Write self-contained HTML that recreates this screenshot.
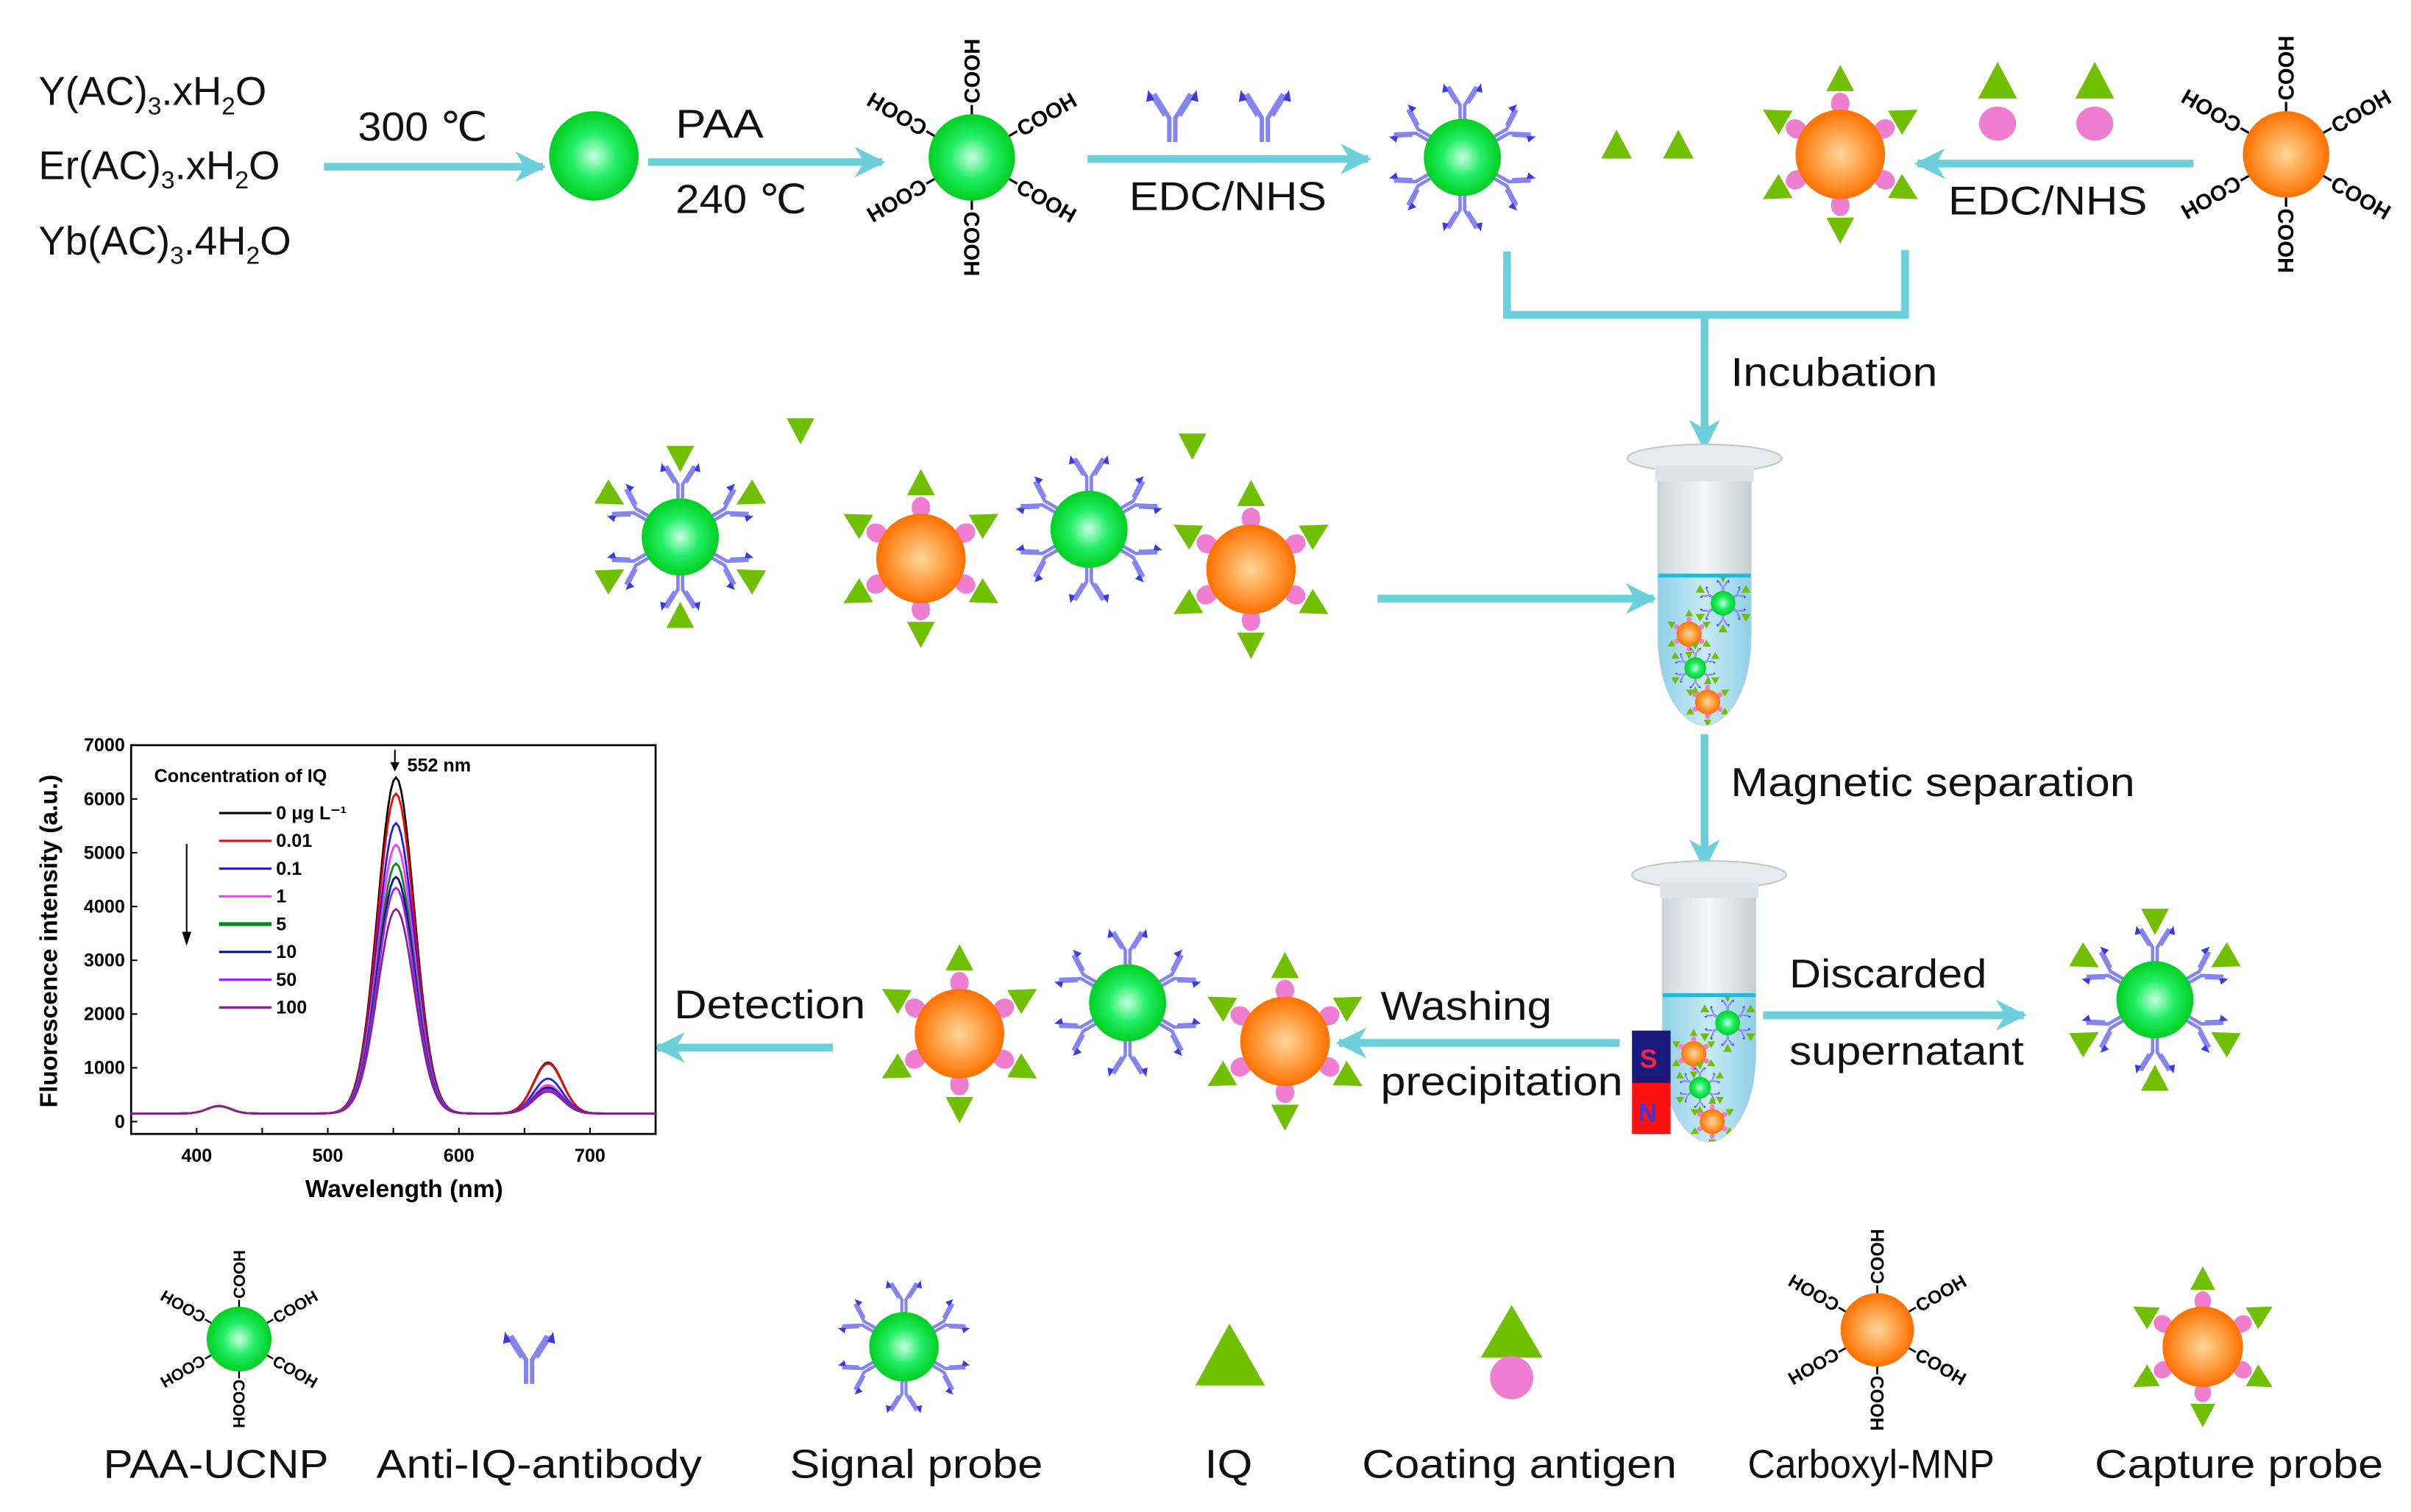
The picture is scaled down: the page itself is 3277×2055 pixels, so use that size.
<!DOCTYPE html>
<html><head><meta charset="utf-8"><style>
html,body{margin:0;padding:0;background:#fff}
svg{display:block}
text{font-family:"Liberation Sans",Arial,sans-serif}
</style></head><body>
<svg id="s" width="3277" height="2055" viewBox="0 0 1563 980" xmlns="http://www.w3.org/2000/svg">
<defs>
<radialGradient id="gG" cx="50%" cy="50%" r="50%"><stop offset="0" stop-color="#c8ffe0"/><stop offset="0.5" stop-color="#22ee66"/><stop offset="1" stop-color="#00d020"/></radialGradient>
<radialGradient id="gO" cx="50%" cy="50%" r="50%"><stop offset="0" stop-color="#ffd79a"/><stop offset="0.6" stop-color="#ff9a3a"/><stop offset="1" stop-color="#ff7000"/></radialGradient>
<linearGradient id="liq" x1="0" x2="1"><stop offset="0" stop-color="#8fcfe6"/><stop offset="0.5" stop-color="#c7eaf6"/><stop offset="1" stop-color="#8fcfe6"/></linearGradient>
<linearGradient id="glass" x1="0" x2="1"><stop offset="0" stop-color="#cfd6da"/><stop offset="0.5" stop-color="#f4f7f8"/><stop offset="1" stop-color="#c7cfd3"/></linearGradient>
<g id="ab">
 <path d="M-1.5 0V-12L-9-24M1.5 0V-12L9-24" fill="none" stroke="#8585f2" stroke-width="2.2"/>
 <path d="M-4-13L-11-24M4-13L11-24" fill="none" stroke="#8585f2" stroke-width="1.5"/>
 <path d="M-12-26l3 5-4 1zM12-26l-3 5 4 1z" fill="#3a3ae0"/>
</g>
<g id="tri"><polygon points="0,-10 9,7 -9,7" fill="#70c000"/></g>
<g id="sp">
 <g transform="rotate(0)"><use href="#ab" transform="translate(0,-22)"/></g>
 <g transform="rotate(60)"><use href="#ab" transform="translate(0,-22)"/></g>
 <g transform="rotate(120)"><use href="#ab" transform="translate(0,-22)"/></g>
 <g transform="rotate(180)"><use href="#ab" transform="translate(0,-22)"/></g>
 <g transform="rotate(240)"><use href="#ab" transform="translate(0,-22)"/></g>
 <g transform="rotate(300)"><use href="#ab" transform="translate(0,-22)"/></g>
 <circle r="25" fill="url(#gG)"/>
</g>
<g id="spT">
 <use href="#sp"/>
 <g transform="rotate(0)"><use href="#tri" transform="translate(0,-52) rotate(180)"/></g>
 <g transform="rotate(60)"><use href="#tri" transform="translate(0,-52) rotate(180)"/></g>
 <g transform="rotate(120)"><use href="#tri" transform="translate(0,-52) rotate(180)"/></g>
 <g transform="rotate(180)"><use href="#tri" transform="translate(0,-52) rotate(180)"/></g>
 <g transform="rotate(240)"><use href="#tri" transform="translate(0,-52) rotate(180)"/></g>
 <g transform="rotate(300)"><use href="#tri" transform="translate(0,-52) rotate(180)"/></g>
</g>
<g id="cp">
 <g transform="rotate(0)"><ellipse cx="0" cy="-33" rx="6" ry="7" fill="#f07ed0"/><use href="#tri" transform="translate(0,-48)"/></g>
 <g transform="rotate(60)"><ellipse cx="0" cy="-33" rx="6" ry="7" fill="#f07ed0"/><use href="#tri" transform="translate(0,-48)"/></g>
 <g transform="rotate(120)"><ellipse cx="0" cy="-33" rx="6" ry="7" fill="#f07ed0"/><use href="#tri" transform="translate(0,-48)"/></g>
 <g transform="rotate(180)"><ellipse cx="0" cy="-33" rx="6" ry="7" fill="#f07ed0"/><use href="#tri" transform="translate(0,-48)"/></g>
 <g transform="rotate(240)"><ellipse cx="0" cy="-33" rx="6" ry="7" fill="#f07ed0"/><use href="#tri" transform="translate(0,-48)"/></g>
 <g transform="rotate(300)"><ellipse cx="0" cy="-33" rx="6" ry="7" fill="#f07ed0"/><use href="#tri" transform="translate(0,-48)"/></g>
 <circle r="29" fill="url(#gO)"/>
</g>
<marker id="ah" viewBox="0 0 10 10" refX="9" refY="5" markerWidth="4" markerHeight="4" orient="auto"><path d="M0 0L10 5L0 10L3 5z" fill="#6cd0dc"/></marker>
</defs>

<!-- top row text -->
<g font-size="26" fill="#111" lengthAdjust="spacingAndGlyphs">
<text x="25" y="68">Y(AC)<tspan font-size="16" dy="6">3</tspan><tspan dy="-6">.xH</tspan><tspan font-size="16" dy="6">2</tspan><tspan dy="-6">O</tspan></text>
<text x="25" y="116">Er(AC)<tspan font-size="16" dy="6">3</tspan><tspan dy="-6">.xH</tspan><tspan font-size="16" dy="6">2</tspan><tspan dy="-6">O</tspan></text>
<text x="25" y="165">Yb(AC)<tspan font-size="16" dy="6">3</tspan><tspan dy="-6">.4H</tspan><tspan font-size="16" dy="6">2</tspan><tspan dy="-6">O</tspan></text>
<text x="232" y="91" textLength="84" lengthAdjust="spacingAndGlyphs">300 ℃</text>
<text x="438" y="89" textLength="57" lengthAdjust="spacingAndGlyphs">PAA</text>
<text x="438" y="138" textLength="85" lengthAdjust="spacingAndGlyphs">240 ℃</text>
<text x="732" y="136" textLength="128" lengthAdjust="spacingAndGlyphs">EDC/NHS</text>
<text x="1263" y="139" textLength="129" lengthAdjust="spacingAndGlyphs">EDC/NHS</text>
<text x="1122" y="250" textLength="134" lengthAdjust="spacingAndGlyphs">Incubation</text>
<text x="1122" y="516" textLength="262" lengthAdjust="spacingAndGlyphs">Magnetic separation</text>
<text x="1160" y="640" textLength="128" lengthAdjust="spacingAndGlyphs">Discarded</text>
<text x="1160" y="690" textLength="152" lengthAdjust="spacingAndGlyphs">supernatant</text>
<text x="895" y="661" textLength="111" lengthAdjust="spacingAndGlyphs">Washing</text>
<text x="895" y="710" textLength="157" lengthAdjust="spacingAndGlyphs">precipitation</text>
<text x="437" y="660" textLength="124" lengthAdjust="spacingAndGlyphs">Detection</text>
<text x="67" y="958" textLength="146" lengthAdjust="spacingAndGlyphs">PAA-UCNP</text>
<text x="244" y="958" textLength="211" lengthAdjust="spacingAndGlyphs">Anti-IQ-antibody</text>
<text x="512" y="958" textLength="164" lengthAdjust="spacingAndGlyphs">Signal probe</text>
<text x="781" y="958" textLength="31" lengthAdjust="spacingAndGlyphs">IQ</text>
<text x="883" y="958" textLength="204" lengthAdjust="spacingAndGlyphs">Coating antigen</text>
<text x="1133" y="958" textLength="160" lengthAdjust="spacingAndGlyphs">Carboxyl-MNP</text>
<text x="1358" y="958" textLength="187" lengthAdjust="spacingAndGlyphs">Capture probe</text>
</g>

<!-- arrows -->
<g stroke="#6cd0dc" stroke-width="5" fill="none" marker-end="url(#ah)">
<line x1="210" y1="108" x2="352" y2="108"/>
<line x1="420" y1="105" x2="572" y2="105"/>
<line x1="705" y1="103" x2="887" y2="103"/>
<line x1="1422" y1="106" x2="1243" y2="106"/>
<line x1="1105" y1="205" x2="1105" y2="290"/>
<line x1="893" y1="388" x2="1072" y2="388"/>
<line x1="1105" y1="476" x2="1105" y2="562"/>
<line x1="1143" y1="658" x2="1312" y2="658"/>
<line x1="1050" y1="676" x2="868" y2="676"/>
<line x1="540" y1="679" x2="426" y2="679"/>
</g>
<path d="M977 163V204H1235V162" stroke="#6cd0dc" stroke-width="5" fill="none"/>

<!-- particles -->
<circle cx="385" cy="101" r="29" fill="url(#gG)"/>
<g id="cooh"></g>
<use href="#ab" transform="translate(760,92) scale(1.3)"/>
<use href="#ab" transform="translate(820,92) scale(1.3)"/>
<use href="#sp" transform="translate(948,102)"/>
<use href="#tri" transform="translate(1048,95) scale(1.1)"/>
<use href="#tri" transform="translate(1088,95) scale(1.1)"/>
<use href="#cp" transform="translate(1193,100)"/>
<use href="#tri" transform="translate(1295,54) scale(1.4)"/><ellipse cx="1295" cy="80" rx="12" ry="11" fill="#f07ed0"/>
<use href="#tri" transform="translate(1358,54) scale(1.4)"/><ellipse cx="1358" cy="80" rx="12" ry="11" fill="#f07ed0"/>

<use href="#spT" transform="translate(441,348)"/>
<use href="#tri" transform="translate(519,278) rotate(180)"/>
<use href="#cp" transform="translate(597,362) rotate(180)"/>
<use href="#sp" transform="translate(706,343)"/>
<use href="#tri" transform="translate(773,288) rotate(180)"/>
<use href="#cp" transform="translate(811,369) rotate(180)"/>

<use href="#cp" transform="translate(622,670) rotate(180)"/>
<use href="#sp" transform="translate(731,650)"/>
<use href="#cp" transform="translate(833,675) rotate(180)"/>
<use href="#spT" transform="translate(1397,648)"/>

<!-- legend icons -->
<use href="#ab" transform="translate(343,897) scale(1.3)"/>
<use href="#sp" transform="translate(586,873) scale(0.9)"/>
<polygon points="797,858 820,898 775,898" fill="#70c000"/>
<polygon points="980,846 1000,880 960,880" fill="#70c000"/><ellipse cx="980" cy="893" rx="14" ry="14" fill="#f07ed0"/>
<use href="#cp" transform="translate(1428,873) rotate(180) scale(0.9)"/>

<g id="tubes"></g>

<!-- magnet -->
<rect x="1058" y="668" width="25" height="34" fill="#1a1a7a"/>
<rect x="1058" y="702" width="25" height="33" fill="#ff1010"/>
<text x="1063" y="692" font-size="17" fill="#ff2040" font-weight="bold">S</text>
<text x="1062" y="727" font-size="17" fill="#3a3ae0" font-weight="bold">N</text>

<!-- chart -->
<g id="chart" font-family="Liberation Sans" font-weight="bold">
<rect x="85" y="483" width="340" height="252" fill="none" stroke="#000" stroke-width="1.3"/>
<g font-size="12" text-anchor="end" id="yt"></g>
<g font-size="12" text-anchor="middle" id="xt"></g>
<text x="0" y="0" font-size="16" text-anchor="middle" transform="translate(37,610) rotate(-90)">Fluorescence intensity (a.u.)</text>
<text x="262" y="776" font-size="16" text-anchor="middle">Wavelength (nm)</text>
<text x="100" y="507" font-size="12">Concentration of IQ</text>
<text x="264" y="500" font-size="12">552 nm</text>
<line x1="256" y1="486" x2="256" y2="498" stroke="#000"/><polygon points="253,494 259,494 256,500" fill="#000"/>
<line x1="121" y1="547" x2="121" y2="608" stroke="#000"/><polygon points="118,604 124,604 121,613" fill="#000"/>
<g id="leg" font-size="12"></g>
<g id="curves" fill="none" stroke-width="1.3"></g>
</g>
</svg>
<script>
var NS="http://www.w3.org/2000/svg";
function el(t,a,p,txt){var e=document.createElementNS(NS,t);for(var k in a)e.setAttribute(k,a[k]);if(txt!=null)e.textContent=txt;p.appendChild(e);return e;}
function cooh(cx,cy,col,sc){
 var g=el("g",{transform:"translate("+cx+","+cy+") scale("+sc+")"},document.getElementById("cooh"));
 [-90,-30,30,90,150,210].forEach(function(a){
  var r=el("g",{transform:"rotate("+a+")"},g);
  el("line",{x1:27,y1:0,x2:34,y2:0,stroke:"#000","stroke-width":1.5},r);
  el("text",{x:35,y:5,"font-size":14,fill:"#000","font-weight":"bold"},r,"COOH");
 });
 el("circle",{r:28,fill:col},g);
}
cooh(630,102,"url(#gG)",1);cooh(1482,100,"url(#gO)",1);
cooh(155,868,"url(#gG)",0.75);cooh(1217,862,"url(#gO)",0.85);
var T=document.getElementById("tubes");
function tube(cx,top,liq){
 var g=el("g",{},T);
 var body="M"+(cx-30)+" "+(top+15)+"V"+(top+120)+"C"+(cx-30)+" "+(top+160)+" "+(cx-12)+" "+(top+178)+" "+cx+" "+(top+178)+"C"+(cx+12)+" "+(top+178)+" "+(cx+30)+" "+(top+160)+" "+(cx+30)+" "+(top+120)+"V"+(top+15)+"z";
 el("path",{d:body,fill:"url(#glass)",stroke:"#c8d0d4"},g);
 var cp=el("clipPath",{id:"c"+top},g);
 el("path",{d:body},cp);
 var gl=el("g",{"clip-path":"url(#c"+top+")"},g);
 el("rect",{x:cx-31,y:liq,width:62,height:200,fill:"url(#liq)"},gl);
 el("line",{x1:cx-30,y1:liq,x2:cx+30,y2:liq,stroke:"#22b8dc","stroke-width":2.5},g);
 el("ellipse",{cx:cx,cy:top+5,rx:50,ry:9,fill:"#e6ecee",stroke:"#c0c8cc"},g);
 el("rect",{x:cx-32,y:top+10,width:64,height:10,fill:"#dde3e6"},g);
 el("use",{href:"#spT",transform:"translate("+(cx+12)+","+(liq+18)+") scale(0.32)"},gl);
 el("use",{href:"#cp",transform:"translate("+(cx-10)+","+(liq+38)+") scale(0.28)"},gl);
 el("use",{href:"#spT",transform:"translate("+(cx-6)+","+(liq+60)+") scale(0.28)"},gl);
 el("use",{href:"#cp",transform:"translate("+(cx+2)+","+(liq+82)+") scale(0.28)"},gl);
}
tube(1105,292,373);tube(1108,562,645);
var x0=85,x1=425,y0=727,yTop=483;
function X(w){return x0+(w-350)/400*(x1-x0);}
function Y(v){return y0-(v/7000)*(y0-yTop);}
var yt=document.getElementById("yt"),xt=document.getElementById("xt");
for(var v=0;v<=7000;v+=1000){el("text",{x:81,y:Y(v)+4},yt,v);el("line",{x1:85,y1:Y(v),x2:89,y2:Y(v),stroke:"#000"},yt);}
for(var w=400;w<=700;w+=100){el("text",{x:X(w),y:753},xt,w);}
for(var w=350;w<=750;w+=50){el("line",{x1:X(w),y1:735,x2:X(w),y2:731,stroke:"#000"},xt);}
var data=[["#000",6400,1100,"0 μg L⁻¹"],["#ff0000",6100,1080,"0.01"],["#1a1aff",5550,800,"0.1"],["#ff33ff",5150,680,"1"],["#008a20",4800,640,"5"],["#101080",4550,630,"10"],["#9922ff",4350,600,"50"],["#882288",3950,560,"100"]];
var C=document.getElementById("curves"),L=document.getElementById("leg");
data.forEach(function(d,i){
 var p="";
 for(var w=350;w<=750;w+=2){
  var v=150+(d[1]-150)*Math.exp(-Math.pow((w-552)/14,2)/2)+(d[2]-150)*Math.exp(-Math.pow((w-668)/11,2)/2)+140*Math.exp(-Math.pow((w-417)/9,2)/2);
  p+=(w==350?"M":"L")+X(w).toFixed(1)+" "+Y(v).toFixed(1);
 }
 el("path",{d:p,stroke:d[0]},C);
 var ly=531+i*18;
 el("line",{x1:142,y1:ly-4,x2:176,y2:ly-4,stroke:d[0],"stroke-width":i==4?2.5:1.5},L);
 el("text",{x:179,y:ly},L,d[3]);
});
</script>
</body></html>
